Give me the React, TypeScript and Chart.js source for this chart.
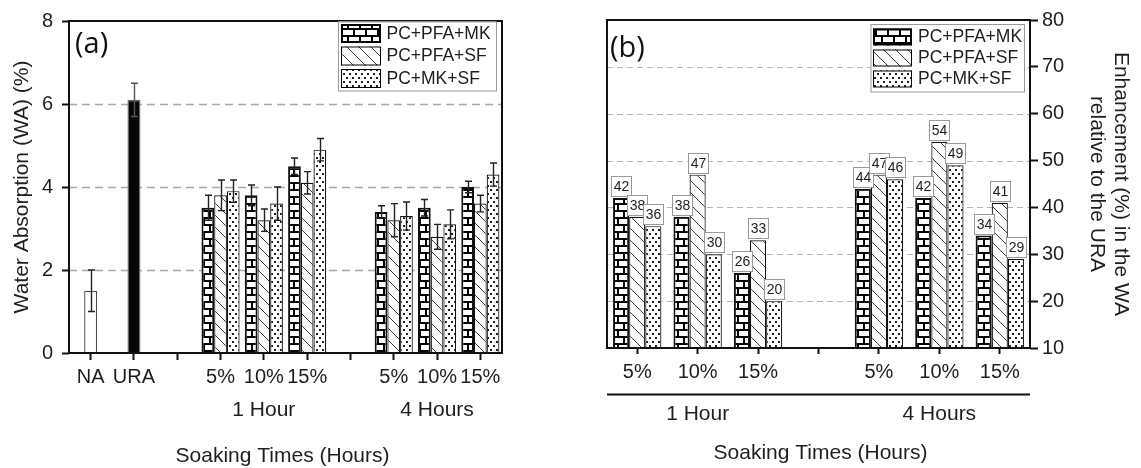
import React, { useEffect, useRef } from 'react';
import { Chart, registerables } from 'chart.js';

Chart.register(...registerables);

const FONT = '"Liberation Sans", Arial, Helvetica, sans-serif';
Chart.defaults.font.family = FONT;

// ---------- Panel (a): Water absorption ----------
const leftCategories = ['NA', 'URA', '', '5%', '10%', '15%', '', '5%', '10%', '15%'];
const referenceLabels = ['NA', 'URA'];
const referenceWA = [1.5, 6.1];
const referenceErr = [0.5, 0.4];
const seriesNames = ['PC+PFA+MK', 'PC+PFA+SF', 'PC+MK+SF'];
const waPfaMk = [3.5, 3.8, 4.5, 3.4, 3.5, 4.0];
const waPfaMkErr = [0.3, 0.25, 0.2, 0.15, 0.2, 0.14];
const waPfaSf = [3.8, 3.2, 4.1, 3.2, 2.8, 3.6];
const waPfaSfErr = [0.37, 0.27, 0.27, 0.4, 0.3, 0.2];
const waMkSf = [3.9, 3.6, 4.9, 3.3, 3.1, 4.3];
const waMkSfErr = [0.27, 0.4, 0.27, 0.34, 0.35, 0.28];
const leftYRange = [0, 8, 2];
const leftGrid = [2, 4, 6];

// ---------- Panel (b): Enhancement ----------
const rightCategories = ['5%', '10%', '15%', '', '5%', '10%', '15%'];
const enhPfaMk = [42, 38, 26, 44, 42, 34];
const enhPfaSf = [38, 47, 33, 47, 54, 41];
const enhMkSf = [36, 30, 20, 46, 49, 29];
const rightYRange = [10, 80, 10];
const rightGrid = [20, 30, 40, 50, 60, 70];

const groupLabels = ['1 Hour', '4 Hours'];
const xTitle = 'Soaking Times (Hours)';
const leftYTitle = 'Water Absorption (WA) (%)';
const rightYTitle = ['Enhancement (%) in the WA', 'relative to the URA'];

function spread(values: number[], cats: string[]) {
  let k = 0;
  return cats.map((c) => (c.endsWith('%') ? values[k++] : null));
}

function groupCenters(cats: string[]) {
  const runs: number[][] = [];
  let cur: number[] = [];
  cats.forEach((c, i) => {
    if (c.endsWith('%')) cur.push(i);
    else if (cur.length) {
      runs.push(cur);
      cur = [];
    }
  });
  if (cur.length) runs.push(cur);
  return runs.map((r) => (r[0] + r[r.length - 1]) / 2);
}

function makePatterns(ctx: CanvasRenderingContext2D) {
  const brickC = document.createElement('canvas');
  brickC.width = 12;
  brickC.height = 14;
  let g = brickC.getContext('2d')!;
  g.fillStyle = '#fff';
  g.fillRect(0, 0, 12, 14);
  g.fillStyle = '#000';
  g.fillRect(0, 0, 12, 2);
  g.fillRect(0, 7, 12, 2);
  g.fillRect(5, 0, 2, 7);
  g.fillRect(0, 7, 1, 7);
  g.fillRect(11, 7, 1, 7);

  const hatchC = document.createElement('canvas');
  hatchC.width = 12;
  hatchC.height = 12;
  g = hatchC.getContext('2d')!;
  g.fillStyle = '#fff';
  g.fillRect(0, 0, 12, 12);
  g.strokeStyle = '#3a3a3a';
  g.lineWidth = 1;
  g.beginPath();
  g.moveTo(-1, -1);
  g.lineTo(13, 13);
  g.moveTo(-1, 11);
  g.lineTo(1, 13);
  g.moveTo(11, -1);
  g.lineTo(13, 1);
  g.stroke();

  const dotC = document.createElement('canvas');
  dotC.width = 6;
  dotC.height = 8;
  g = dotC.getContext('2d')!;
  g.fillStyle = '#fff';
  g.fillRect(0, 0, 6, 8);
  g.fillStyle = '#222';
  g.fillRect(1, 1, 2, 2);
  g.fillRect(4, 5, 2, 2);

  return {
    brick: ctx.createPattern(brickC, 'repeat')!,
    hatch: ctx.createPattern(hatchC, 'repeat')!,
    dots: ctx.createPattern(dotC, 'repeat')!,
  };
}

function drawText(
  ctx: CanvasRenderingContext2D,
  s: string,
  x: number,
  y: number,
  size: number,
  align: CanvasTextAlign = 'center',
  rot = 0,
  family = FONT,
  color = '#1e1e1e'
) {
  ctx.save();
  ctx.translate(x, y);
  ctx.rotate(rot);
  ctx.font = `${size}px ${family}`;
  ctx.fillStyle = color;
  ctx.textAlign = align;
  ctx.textBaseline = 'middle';
  ctx.fillText(s, 0, 0);
  ctx.restore();
}

function drawFrame(chart: any) {
  const { ctx, chartArea: a } = chart;
  ctx.save();
  ctx.strokeStyle = '#111';
  ctx.lineWidth = 2;
  ctx.strokeRect(a.left, a.top, a.right - a.left, a.bottom - a.top);
  ctx.restore();
}

function drawGrid(chart: any, values: number[], color: string, lw: number, dash: number[]) {
  const { ctx, chartArea: a } = chart;
  const y = chart.scales.y;
  ctx.save();
  ctx.strokeStyle = color;
  ctx.lineWidth = lw;
  ctx.setLineDash(dash);
  values.forEach((v) => {
    const py = Math.round(y.getPixelForValue(v)) + 0.5;
    ctx.beginPath();
    ctx.moveTo(a.left, py);
    ctx.lineTo(a.right, py);
    ctx.stroke();
  });
  ctx.restore();
}

function drawLegend(chart: any, fills: any[], borders: number[], cfg: any) {
  const ctx = chart.ctx;
  ctx.save();
  ctx.fillStyle = '#fff';
  ctx.fillRect(cfg.x, cfg.y, cfg.w, cfg.h);
  ctx.strokeStyle = '#9a9a9a';
  ctx.lineWidth = 1;
  ctx.strokeRect(cfg.x + 0.5, cfg.y + 0.5, cfg.w, cfg.h);
  seriesNames.forEach((name, i) => {
    const top = cfg.rows[i];
    ctx.fillStyle = fills[i];
    ctx.fillRect(cfg.sx, top, cfg.sw, cfg.sh);
    ctx.strokeStyle = '#000';
    ctx.lineWidth = borders[i];
    const o = borders[i] / 2;
    ctx.strokeRect(cfg.sx + o, top + o, cfg.sw - 2 * o, cfg.sh - 2 * o);
    drawText(ctx, name, cfg.tx, top + cfg.sh / 2 + 0.5, 17.5, 'left');
  });
  ctx.restore();
}

function buildLeft(canvas: HTMLCanvasElement) {
  const ctx = canvas.getContext('2d')!;
  const P = makePatterns(ctx);
  const refIdx = (c: string) => referenceLabels.indexOf(c);
  const refData = leftCategories.map((c) => (refIdx(c) >= 0 ? referenceWA[refIdx(c)] : null));
  const refErrs = leftCategories.map((c) => (refIdx(c) >= 0 ? referenceErr[refIdx(c)] : null));
  const refFill = leftCategories.map((c) => (c === 'URA' ? '#060606' : '#ffffff'));
  const refBorder = leftCategories.map((c) => (c === 'URA' ? '#666' : '#4a4a4a'));

  const groups = [
    { data: spread(waPfaMk, leftCategories), err: spread(waPfaMkErr, leftCategories), bg: P.brick, bw: 2 },
    { data: spread(waPfaSf, leftCategories), err: spread(waPfaSfErr, leftCategories), bg: P.hatch, bw: 1.2 },
    { data: spread(waMkSf, leftCategories), err: spread(waMkSfErr, leftCategories), bg: P.dots, bw: 1.2 },
  ];
  const datasets: any[] = groups.map((g, i) => ({
    label: seriesNames[i],
    data: g.data,
    backgroundColor: g.bg,
    borderColor: '#111',
    borderWidth: g.bw,
    categoryPercentage: 0.88,
    barPercentage: 1,
  }));
  datasets.push({
    label: 'reference',
    data: refData,
    grouped: false,
    maxBarThickness: 13,
    backgroundColor: refFill,
    borderColor: refBorder,
    borderWidth: 1.3,
  });
  const errs = [...groups.map((g) => g.err), refErrs];
  const centers = groupCenters(leftCategories);

  const decor = {
    id: 'decorA',
    beforeDatasetsDraw(chart: any) {
      drawGrid(chart, leftGrid, '#a9a9a9', 1.5, [8, 5]);
    },
    afterDatasetsDraw(chart: any) {
      const c = chart.ctx;
      const y = chart.scales.y;
      c.save();
      c.lineWidth = 1.4;
      errs.forEach((arr, di) => {
        const meta = chart.getDatasetMeta(di);
        arr.forEach((e: any, i: number) => {
          const v = chart.data.datasets[di].data[i];
          if (e == null || v == null) return;
          const x = Math.round(meta.data[i].x) + 0.5;
          const t = y.getPixelForValue(v + e);
          const b = y.getPixelForValue(v - e);
          c.strokeStyle = leftCategories[i] === 'URA' ? '#555' : '#222';
          c.beginPath();
          c.moveTo(x, t);
          c.lineTo(x, b);
          c.moveTo(x - 3.5, t);
          c.lineTo(x + 3.5, t);
          c.moveTo(x - 3.5, b);
          c.lineTo(x + 3.5, b);
          c.stroke();
        });
      });
      c.restore();
    },
    afterDraw(chart: any) {
      const c = chart.ctx;
      const a = chart.chartArea;
      const x = chart.scales.x;
      drawFrame(chart);
      drawLegend(chart, [P.brick, P.hatch, P.dots], [2, 1, 1], {
        x: 338, y: 21.5, w: 158, h: 69, sx: 341, sw: 40, sh: 19, rows: [24, 46.5, 69], tx: 386.5,
      });
      drawText(c, '(a)', 75, 45, 29, 'left', 0, '"Open Sans", "DejaVu Sans", sans-serif', '#111');
      centers.forEach((ci, k) => drawText(c, groupLabels[k], x.getPixelForValue(ci), 410, 21));
      drawText(c, xTitle, (a.left + a.right) / 2 - 3, 456, 21);
      drawText(c, leftYTitle, 22, (a.top + a.bottom) / 2, 21, 'center', -Math.PI / 2);
    },
  };

  return new Chart(ctx, {
    type: 'bar',
    data: { labels: leftCategories, datasets },
    options: {
      responsive: false,
      animation: false,
      events: [],
      layout: { padding: { left: 0, right: 68, top: 17, bottom: 0 } },
      plugins: { legend: { display: false }, tooltip: { enabled: false } },
      scales: {
        x: {
          type: 'category',
          offset: true,
          grid: { offset: false, drawOnChartArea: false, drawTicks: true, tickLength: 7, tickWidth: 2, tickColor: '#111' },
          border: { display: false },
          ticks: { autoSkip: false, maxRotation: 0, minRotation: 0, padding: 5, color: '#1e1e1e', font: { size: 20 } },
          afterFit: (s: any) => {
            s.height = 115;
          },
        },
        y: {
          min: leftYRange[0],
          max: leftYRange[1],
          grid: { drawOnChartArea: false, drawTicks: true, tickLength: 7, tickWidth: 2, tickColor: '#111' },
          border: { display: false },
          ticks: { stepSize: leftYRange[2], padding: 9, color: '#1e1e1e', font: { size: 20 } },
          afterFit: (s: any) => {
            s.width = 69;
          },
        },
      },
    },
    plugins: [decor],
  } as any);
}

function buildRight(canvas: HTMLCanvasElement) {
  const ctx = canvas.getContext('2d')!;
  const P = makePatterns(ctx);
  const series = [
    { data: spread(enhPfaMk, rightCategories), bg: P.brick, bw: 2 },
    { data: spread(enhPfaSf, rightCategories), bg: P.hatch, bw: 1.2 },
    { data: spread(enhMkSf, rightCategories), bg: P.dots, bw: 1.2 },
  ];
  const datasets = series.map((s, i) => ({
    label: seriesNames[i],
    data: s.data,
    backgroundColor: s.bg,
    borderColor: '#111',
    borderWidth: s.bw,
    categoryPercentage: 0.8,
    barPercentage: 1,
  }));
  const centers = groupCenters(rightCategories);

  const decor = {
    id: 'decorB',
    beforeDatasetsDraw(chart: any) {
      drawGrid(chart, rightGrid, '#b5b5b5', 1.2, [6, 4]);
    },
    afterDatasetsDraw(chart: any) {
      const c = chart.ctx;
      c.save();
      chart.data.datasets.forEach((ds: any, di: number) => {
        const meta = chart.getDatasetMeta(di);
        ds.data.forEach((v: any, i: number) => {
          if (v == null) return;
          const el = meta.data[i];
          const bx = Math.round(el.x - 10) + 0.5;
          const by = Math.round(el.y - 22) + 0.5;
          c.fillStyle = '#fff';
          c.fillRect(bx, by, 20, 20);
          c.strokeStyle = '#9a9a9a';
          c.lineWidth = 1;
          c.strokeRect(bx, by, 20, 20);
          drawText(c, String(v), bx + 10, by + 10.5, 14);
        });
      });
      c.restore();
    },
    afterDraw(chart: any) {
      const c = chart.ctx;
      const a = chart.chartArea;
      const x = chart.scales.x;
      drawFrame(chart);
      drawLegend(chart, [P.brick, P.hatch, P.dots], [2, 1, 1], {
        x: 300.5, y: 24, w: 153.5, h: 67.5, sx: 303, sw: 39, sh: 17, rows: [28.5, 49.5, 70.5], tx: 348,
      });
      drawText(c, '(b)', 40, 49, 29, 'left', 0, '"Open Sans", "DejaVu Sans", sans-serif', '#111');
      c.save();
      c.strokeStyle = '#111';
      c.lineWidth = 2;
      c.beginPath();
      c.moveTo(a.left, 394.5);
      c.lineTo(a.right, 394.5);
      c.stroke();
      c.restore();
      centers.forEach((ci, k) => drawText(c, groupLabels[k], x.getPixelForValue(ci), 414, 21));
      drawText(c, xTitle, (a.left + a.right) / 2 + 2, 453, 21);
      const cy = (a.top + a.bottom) / 2;
      drawText(c, rightYTitle[0], 551, cy, 21, 'center', Math.PI / 2);
      drawText(c, rightYTitle[1], 527, cy, 21, 'center', Math.PI / 2);
    },
  };

  return new Chart(ctx, {
    type: 'bar',
    data: { labels: rightCategories, datasets },
    options: {
      responsive: false,
      animation: false,
      events: [],
      layout: { padding: { left: 37, right: 0, top: 20, bottom: 0 } },
      plugins: { legend: { display: false }, tooltip: { enabled: false } },
      scales: {
        x: {
          type: 'category',
          offset: true,
          grid: { offset: false, drawOnChartArea: false, drawTicks: true, tickLength: 6, tickWidth: 2, tickColor: '#111' },
          border: { display: false },
          ticks: { autoSkip: false, maxRotation: 0, minRotation: 0, padding: 6, color: '#1e1e1e', font: { size: 20 } },
          afterFit: (s: any) => {
            s.height = 120;
          },
        },
        y: {
          position: 'right',
          min: rightYRange[0],
          max: rightYRange[1],
          grid: { drawOnChartArea: false, drawTicks: true, tickLength: 8, tickWidth: 2, tickColor: '#111' },
          border: { display: false },
          ticks: { stepSize: rightYRange[2], padding: 4, color: '#1e1e1e', font: { size: 20 } },
          afterFit: (s: any) => {
            s.width = 111;
          },
        },
      },
    },
    plugins: [decor],
  } as any);
}

export default function App() {
  const leftRef = useRef<HTMLCanvasElement>(null);
  const rightRef = useRef<HTMLCanvasElement>(null);
  useEffect(() => {
    const charts: Chart[] = [];
    if (leftRef.current) charts.push(buildLeft(leftRef.current));
    if (rightRef.current) charts.push(buildRight(rightRef.current));
    return () => charts.forEach((c) => c.destroy());
  }, []);
  return (
    <div style={{ position: 'absolute', left: 0, top: 0, width: 1141, height: 468, background: '#fff', overflow: 'hidden' }}>
      <canvas ref={leftRef} width={570} height={468} style={{ position: 'absolute', left: 0, top: 0, width: 570, height: 468 }} />
      <canvas ref={rightRef} width={571} height={468} style={{ position: 'absolute', left: 570, top: 0, width: 571, height: 468 }} />
    </div>
  );
}
